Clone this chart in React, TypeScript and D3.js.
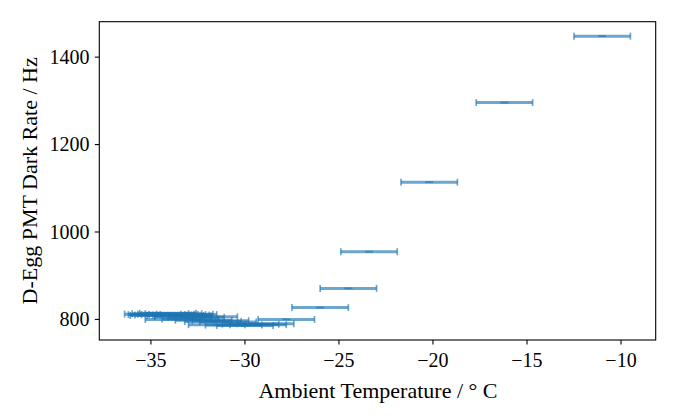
import React from "react";
import * as d3 from "d3";

// Ambient temperature (°C) centers and dark rate (Hz)
const temps: number[] = [
  -11.0, -16.2, -20.2, -23.4, -24.5, -26.0, -27.8,
  -34.9, -34.7, -34.5, -34.35, -34.2, -34.0, -33.8, -33.6, -33.4, -33.2, -33.0,
  -34.6, -34.1, -33.7, -33.3,
  -33.3, -32.6, -31.9,
  -33.8, -32.9, -32.2, -31.3,
  -31.7, -30.9,
  -31.5, -30.6, -30.0, -29.7, -29.3, -28.9,
];
const rates: number[] = [
  1448, 1296, 1114, 955, 871, 827, 800,
  812, 811, 813, 810, 812, 811, 813, 811, 810, 812, 811,
  809, 814, 809, 808,
  806, 805, 806,
  800, 801, 798, 797,
  795, 794,
  788, 787, 786, 789, 788, 790,
];
const tempErr: number[] = temps.map(() => 1.5);

const xTicks: number[] = [-35, -30, -25, -20, -15, -10];
const yTicks: number[] = [800, 1000, 1200, 1400];

const W = 678;
const H = 419;
const M = { left: 99.3, right: 655.7, top: 21.7, bottom: 340 };
const BLUE = "#1f77b4";
const FONT = "'Liberation Serif', 'DejaVu Serif', serif";

export default function App() {
  const lo = d3.min(temps.map((t, i) => t - tempErr[i]))!;
  const hi = d3.max(temps.map((t, i) => t + tempErr[i]))!;
  const xm = (hi - lo) * 0.05;
  const x = d3.scaleLinear().domain([lo - xm, hi + xm]).range([M.left, M.right]);
  const ylo = d3.min(rates)!;
  const yhi = d3.max(rates)!;
  const ym = (yhi - ylo) * 0.05;
  const y = d3.scaleLinear().domain([ylo - ym, yhi + ym]).range([M.bottom, M.top]);

  const fmt = (v: number) => (v < 0 ? "\u2212" + Math.abs(v) : String(v));

  return (
    <svg
      width={W}
      height={H}
      style={{ position: "absolute", left: 0, top: 0, background: "#fff" }}
      fontFamily={FONT}
    >
      <rect x={0} y={0} width={W} height={H} fill="#fff" />
      {/* error bars */}
      <g>
        {temps.map((t, i) => {
          const cy = y(rates[i]);
          const x0 = x(t - tempErr[i]);
          const x1 = x(t + tempErr[i]);
          const cx = x(t);
          return (
            <g key={i} stroke={BLUE} strokeOpacity={0.65}>
              <line x1={x0} x2={x1} y1={cy} y2={cy} strokeWidth={3} />
              <line x1={x0} x2={x0} y1={cy - 3.5} y2={cy + 3.5} strokeWidth={1.7} />
              <line x1={x1} x2={x1} y1={cy - 3.5} y2={cy + 3.5} strokeWidth={1.7} />
              <line x1={cx - 4} x2={cx + 4} y1={cy} y2={cy} strokeWidth={1.8} />
            </g>
          );
        })}
      </g>
      {/* frame */}
      <rect
        x={M.left}
        y={M.top}
        width={M.right - M.left}
        height={M.bottom - M.top}
        fill="none"
        stroke="#000"
        strokeWidth={1.1}
      />
      {/* x ticks */}
      {xTicks.map((t) => (
        <g key={t}>
          <line x1={x(t)} x2={x(t)} y1={M.bottom} y2={M.bottom + 4.5} stroke="#000" strokeWidth={1.1} />
          <text x={x(t)} y={367} textAnchor="middle" fontSize={20}>
            {fmt(t)}
          </text>
        </g>
      ))}
      {/* y ticks */}
      {yTicks.map((t) => (
        <g key={t}>
          <line x1={M.left - 4.5} x2={M.left} y1={y(t)} y2={y(t)} stroke="#000" strokeWidth={1.1} />
          <text x={89.5} y={y(t)} dy="0.34em" textAnchor="end" fontSize={20}>
            {fmt(t)}
          </text>
        </g>
      ))}
      <text x={(M.left + M.right) / 2 + 0.5} y={398} textAnchor="middle" fontSize={22}>
        Ambient Temperature / ° C
      </text>
      <text
        transform={`translate(37,${(M.top + M.bottom) / 2}) rotate(-90)`}
        textAnchor="middle"
        fontSize={22}
      >
        D-Egg PMT Dark Rate / Hz
      </text>
    </svg>
  );
}
